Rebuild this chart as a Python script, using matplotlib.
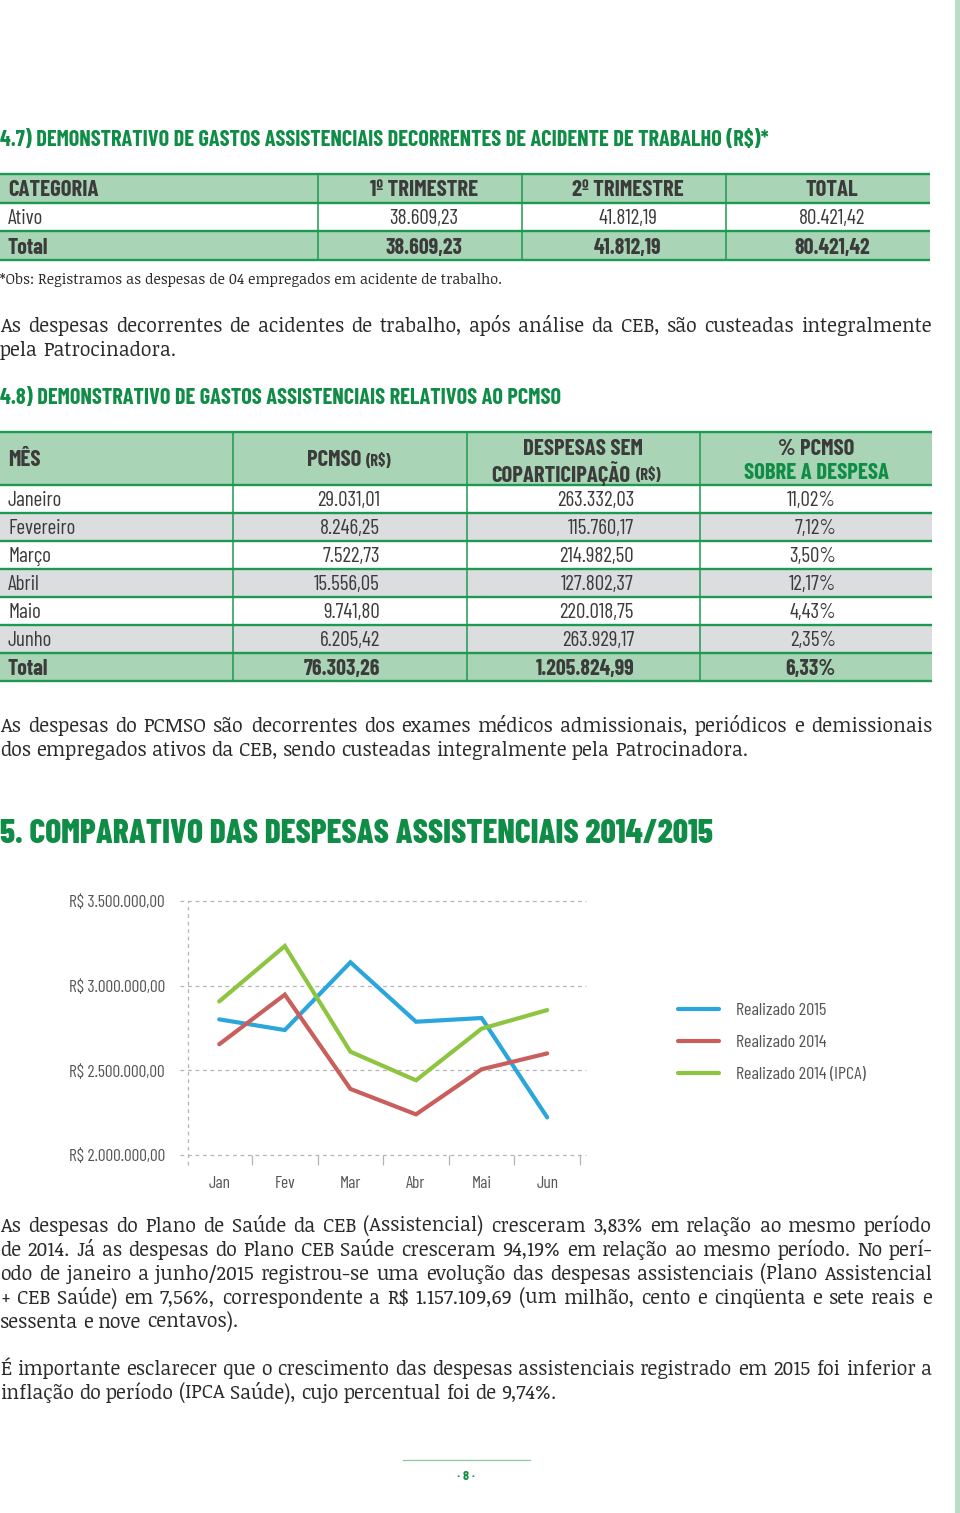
import matplotlib
matplotlib.use('Agg')
import matplotlib.pyplot as plt
from matplotlib import font_manager as fm
from matplotlib.patches import Rectangle

# ---------------- data ----------------
t1_header = ['CATEGORIA', '1º TRIMESTRE', '2º TRIMESTRE', 'TOTAL']
t1_ativo = ['Ativo', '38.609,23', '41.812,19', '80.421,42']
t1_total = ['Total', '38.609,23', '41.812,19', '80.421,42']

meses = ['Janeiro', 'Fevereiro', 'Março', 'Abril', 'Maio', 'Junho']
pcmso = ['29.031,01', '8.246,25', '7.522,73', '15.556,05', '9.741,80', '6.205,42']
despesas = ['263.332,03', '115.760,17', '214.982,50', '127.802,37', '220.018,75', '263.929,17']
perc_pcmso = ['11,02%', '7,12%', '3,50%', '12,17%', '4,43%', '2,35%']
t2_total = ['Total', '76.303,26', '1.205.824,99', '6,33%']

meses_curto = ['Jan', 'Fev', 'Mar', 'Abr', 'Mai', 'Jun']
realizado_2015 = [2801000, 2738000, 3138000, 2787000, 2809000, 2222000]
realizado_2014 = [2654000, 2947000, 2390000, 2240000, 2506000, 2600000]
realizado_2014_ipca = [2907000, 3234000, 2610000, 2441000, 2746000, 2856000]
series_nomes = ['Realizado 2015', 'Realizado 2014', 'Realizado 2014 (IPCA)']
y_ticks = [2000000, 2500000, 3000000, 3500000]
y_labels = ['R$ 2.000.000,00', 'R$ 2.500.000,00', 'R$ 3.000.000,00', 'R$ 3.500.000,00']

titulo_47 = '4.7) DEMONSTRATIVO DE GASTOS ASSISTENCIAIS DECORRENTES DE ACIDENTE DE TRABALHO (R$)*'
titulo_48 = '4.8) DEMONSTRATIVO DE GASTOS ASSISTENCIAIS RELATIVOS AO PCMSO'
titulo_5 = '5. COMPARATIVO DAS DESPESAS ASSISTENCIAIS 2014/2015'
obs = '*Obs: Registramos as despesas de 04 empregados em acidente de trabalho.'
par1 = ['As despesas decorrentes de acidentes de trabalho, após análise da CEB, são custeadas integralmente',
        'pela Patrocinadora.']
par2 = ['As despesas do PCMSO são decorrentes dos exames médicos admissionais, periódicos e demissionais',
        'dos empregados ativos da CEB, sendo custeadas integralmente pela Patrocinadora.']
par3 = ['As despesas do Plano de Saúde da CEB (Assistencial) cresceram 3,83% em relação ao mesmo período',
        'de 2014. Já as despesas do Plano CEB Saúde cresceram 94,19% em relação ao mesmo período. No perí-',
        'odo de janeiro a junho/2015 registrou-se uma evolução das despesas assistenciais (Plano Assistencial',
        '+ CEB Saúde) em 7,56%, correspondente a R$ 1.157.109,69 (um milhão, cento e cinqüenta e sete reais e',
        'sessenta e nove centavos).']
par4 = ['É importante esclarecer que o crescimento das despesas assistenciais registrado em 2015 foi inferior a',
        'inflação do período (IPCA Saúde), cujo percentual foi de 9,74%.']


def pick(cands):
    have = {f.name for f in fm.fontManager.ttflist}
    for c in cands:
        if c in have:
            return c
    return 'DejaVu Sans'


COND = pick(['Barlow Condensed', 'Roboto Condensed', 'Oswald', 'DejaVu Sans'])
SERIF = pick(['Noticia Text', 'Bitter', 'Roboto Slab', 'Zilla Slab', 'DejaVu Serif'])

VERDE = '#0f8c45'
VERDE_LINHA = '#1d9a52'
VERDE_CLARO = '#a9d4b5'
CINZA_LINHA = '#dcdddf'
TXT = '#3b3b3b'
CORPO = '#2a2a2a'
cores = ['#2ba6dc', '#c95f5d', '#8dc440']

fig = plt.figure(figsize=(9.6, 15.13), dpi=100)
page = fig.add_axes([0, 0, 1, 1])
page.set_xlim(0, 960)
page.set_ylim(1513, 0)
page.axis('off')
rend = fig.canvas.get_renderer()


def largura(t):
    return t.get_window_extent(rend).width


def tamanho(s, w, **kw):
    t = page.text(0, 0, s, fontsize=10, **kw)
    size = 10 * w / largura(t)
    t.remove()
    return size


def txt(x, y, s, size, ha='left', va='center_baseline', **kw):
    kw.setdefault('family', COND)
    kw.setdefault('color', TXT)
    return page.text(x, y, s, fontsize=size, ha=ha, va=va, **kw)


def paragrafo(linhas, y0, size):
    esp = largura(page.text(0, 0, 'a a', fontsize=size, family=SERIF)) - \
        largura(page.text(0, 0, 'aa', fontsize=size, family=SERIF))
    for t in page.texts[-2:]:
        t.remove()
    for k, linha in enumerate(linhas):
        y = y0 + 24 * k
        palavras = linha.split(' ')
        ts = [page.text(0, y, p, fontsize=size, family=SERIF, color=CORPO, va='baseline') for p in palavras]
        ws = [largura(t) for t in ts]
        if k < len(linhas) - 1:
            gap = (932 - sum(ws)) / (len(palavras) - 1)
        else:
            gap = esp
        x = 0
        for t, w in zip(ts, ws):
            t.set_x(x)
            x += w + gap


# right edge stripe
page.add_patch(Rectangle((955, 0), 5, 1513, color='#b9dec5', lw=0))

# headings
txt(0, 138, titulo_47, tamanho(titulo_47, 773, family=COND, weight='bold'), weight='bold', color=VERDE)
txt(0, 396, titulo_48, tamanho(titulo_48, 564, family=COND, weight='bold'), weight='bold', color=VERDE)
txt(0, 831, titulo_5, tamanho(titulo_5, 708, family=COND, weight='heavy'), weight='heavy', color=VERDE)

# sizes for table text
s_hdr = tamanho('DESPESAS SEM', 120, family=COND, weight='bold')
s_body = tamanho('29.031,01', 63, family=COND)
s_bold = tamanho('76.303,26', 77, family=COND, weight='bold')

# ---- table 4.7 ----
lin1 = [174, 203, 231, 260]
col1 = [0, 318, 522, 726, 930]
for top, bot, cor in [(174, 203, VERDE_CLARO), (231, 260, VERDE_CLARO)]:
    page.add_patch(Rectangle((0, top), 930, bot - top, color=cor, lw=0))
for y in lin1:
    page.plot([0, 930], [y, y], color=VERDE_LINHA, lw=1.7, solid_capstyle='butt')
for x in col1[1:-1]:
    page.plot([x, x], [174, 260], color=VERDE_LINHA, lw=1.1)
yc = [(a + b) / 2 for a, b in zip(lin1[:-1], lin1[1:])]
txt(8, yc[0], t1_header[0], s_hdr, weight='bold')
for j in range(1, 4):
    cx = (col1[j] + col1[j + 1]) / 2 + 4
    txt(cx, yc[0], t1_header[j], s_hdr, ha='center', weight='bold')
    txt(cx, yc[1], t1_ativo[j], s_body, ha='center')
    txt(cx, yc[2], t1_total[j], s_bold, ha='center', weight='bold')
txt(8, yc[1], t1_ativo[0], s_body)
txt(8, yc[2], t1_total[0], s_bold, weight='bold')

txt(0, 284, obs, tamanho(obs, 498, family=SERIF), va='baseline', family=SERIF, color=CORPO)

# paragraph sizes
todas = par1[:-1] + par2[:-1] + par3[:-1] + par4[:-1]
s_par = min(tamanho(l, 922, family=SERIF) for l in todas)
paragrafo(par1, 332, s_par)

# ---- table 4.8 ----
lin2 = [432, 485, 513, 541, 569, 597, 625, 653, 681]
col2 = [0, 233, 467, 700, 932]
page.add_patch(Rectangle((0, 432), 932, 53, color=VERDE_CLARO, lw=0))
for i in range(len(meses)):
    if i % 2 == 1:
        page.add_patch(Rectangle((0, lin2[i + 1]), 932, 28, color=CINZA_LINHA, lw=0))
page.add_patch(Rectangle((0, 653), 932, 28, color=VERDE_CLARO, lw=0))
for y in lin2:
    page.plot([0, 932], [y, y], color=VERDE_LINHA, lw=1.7, solid_capstyle='butt')
for x in col2[1:-1]:
    page.plot([x, x], [432, 681], color=VERDE_LINHA, lw=1.1)

txt(8, 458, 'MÊS', s_hdr, weight='bold')
txt(361, 458, 'PCMSO', s_hdr, ha='right', weight='bold')
txt(366, 460, '(R$)', s_hdr * 0.72, weight='bold')
txt(583, 447, 'DESPESAS SEM', s_hdr, ha='center', weight='bold')
txt(630, 471, 'COPARTICIPAÇÃO', s_hdr, ha='right', weight='bold')
txt(636, 473, '(R$)', s_hdr * 0.72, weight='bold')
txt(816, 447, '% PCMSO', s_hdr, ha='center', weight='bold')
txt(816, 471, 'SOBRE A DESPESA', s_hdr, ha='center', weight='bold', color=VERDE)

for i in range(len(meses)):
    y = (lin2[i + 1] + lin2[i + 2]) / 2
    txt(8, y, meses[i], s_body)
    txt(380, y, pcmso[i], s_body, ha='right')
    txt(634, y, despesas[i], s_body, ha='right')
    txt(836, y, perc_pcmso[i], s_body, ha='right')
txt(8, 667, t2_total[0], s_bold, weight='bold')
txt(380, 667, t2_total[1], s_bold, ha='right', weight='bold')
txt(634, 667, t2_total[2], s_bold, ha='right', weight='bold')
txt(836, 667, t2_total[3], s_bold, ha='right', weight='bold')

paragrafo(par2, 732, s_par)

# ---- chart ----
ax = fig.add_axes([188 / 960, (1513 - 1155) / 1513, 392 / 960, 254 / 1513])
x = list(range(len(meses_curto)))
for serie, cor in zip([realizado_2015, realizado_2014, realizado_2014_ipca], cores):
    ax.plot(x, serie, color=cor, lw=3.0, solid_capstyle='round', solid_joinstyle='miter', zorder=3)
ax.set_xlim(-0.476, 5.5)
ax.set_ylim(2000000, 3500000)
for s in ax.spines.values():
    s.set_visible(False)
for yv in y_ticks:
    ax.axhline(yv, xmin=-0.02, xmax=1.015, color='#b4b4b4', lw=0.9, ls=(0, (3, 3)), clip_on=False, zorder=1)
ax.axvline(-0.476, ymin=-0.04, ymax=1.0, color='#b4b4b4', lw=0.9, ls=(0, (3, 3)), clip_on=False, zorder=1)
s_tick = tamanho('R$ 3.500.000,00', 97, family=COND)
ax.set_yticks(y_ticks, y_labels, family=COND, fontsize=s_tick, color='#555555')
ax.set_xticks(x, meses_curto, family=COND, fontsize=s_tick, color='#555555')
ax.set_xticks([i + 0.5 for i in x], minor=True)
ax.tick_params(axis='y', length=0, pad=16.5)
ax.tick_params(axis='x', which='major', length=0, pad=15)
ax.tick_params(axis='x', which='minor', length=7.2, width=0.9, color='#b4b4b4', direction='out')
ax.patch.set_alpha(0)

s_leg = tamanho(series_nomes[2], 130, family=COND)
for i, (nome, cor) in enumerate(zip(series_nomes, cores)):
    y = 1009 + 32 * i
    page.plot([678, 719], [y, y], color=cor, lw=3.0, solid_capstyle='round')
    txt(736, y, nome, s_leg, color='#555555')

paragrafo(par3, 1232, s_par)
paragrafo(par4, 1375, s_par)

# footer
page.plot([403, 530], [1460, 1460], color='#8fc9a3', lw=0.9)
txt(466, 1476, '· 8 ·', 10, ha='center', weight='bold', color=VERDE)

fig.savefig('out.png', dpi=100)
